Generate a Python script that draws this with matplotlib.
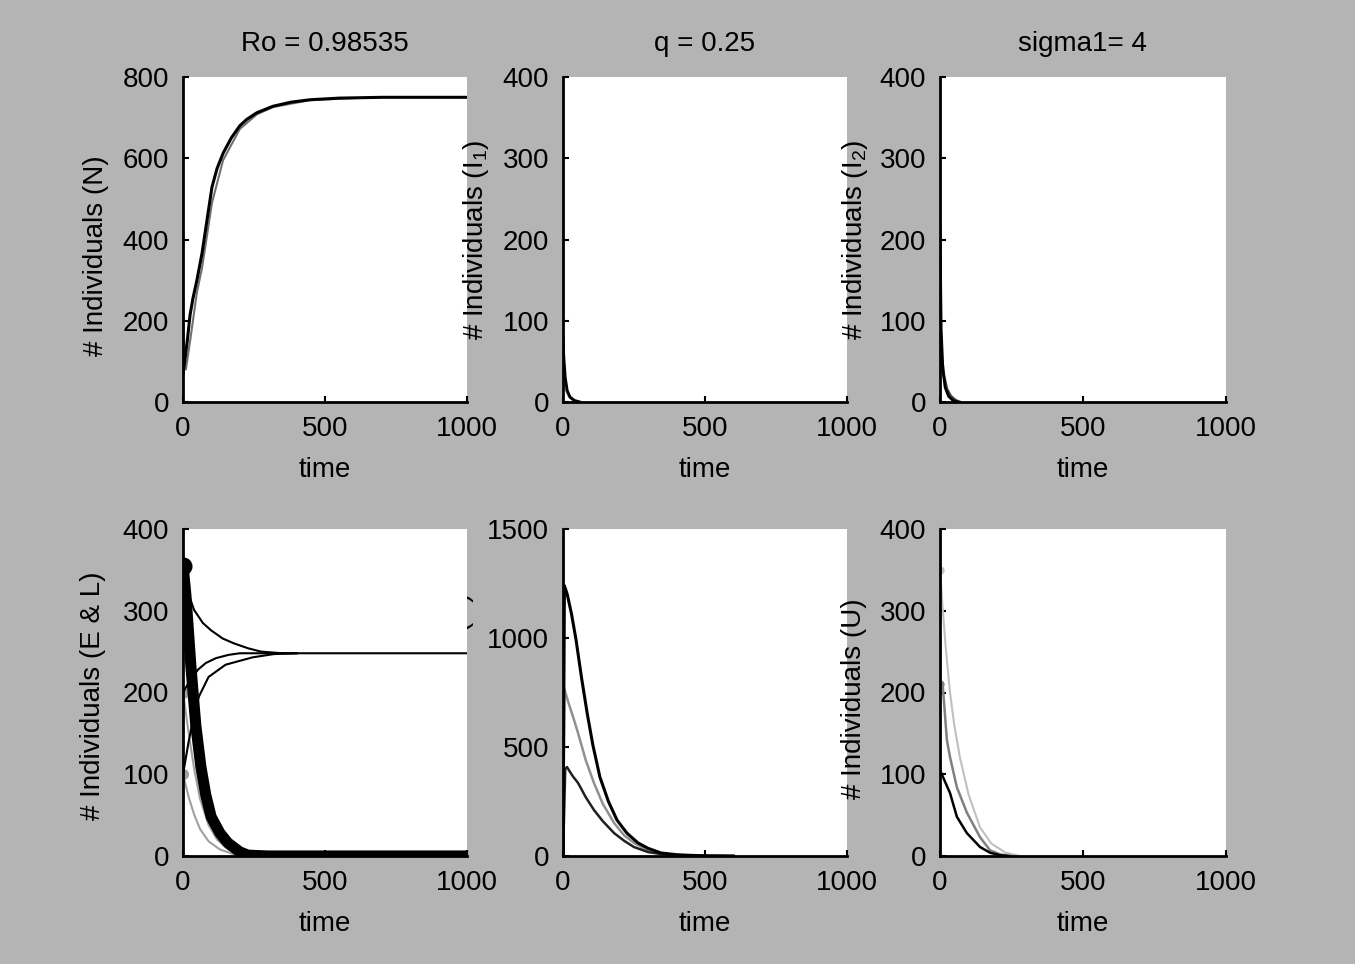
import matplotlib
matplotlib.use("Agg")
import matplotlib.pyplot as plt

plt.rcParams['font.family'] = ['Liberation Sans', 'DejaVu Sans']
plt.rcParams['mathtext.fontset'] = 'custom'
plt.rcParams['mathtext.rm'] = 'Liberation Sans'
plt.rcParams['mathtext.it'] = 'Liberation Sans'

# ---------------- data ----------------
titles = ["Ro = 0.98535", "q = 0.25", "sigma1= 4"]
ylabels = ["# Individuals (N)", r"# Individuals (I$_\mathrm{1}$)", r"# Individuals (I$_\mathrm{2}$)",
           "# Individuals (E & L)", "# Individuals (C)", "# Individuals (U)"]
xlabel = "time"
xticks = [0, 500, 1000]

# Panel 1: total population N
n_a_t = [0, 5, 15, 25, 35, 49, 67, 85, 102, 120, 141, 170, 200, 225, 260, 317, 380, 447, 550, 700, 1000]
n_a_v = [70, 95, 150, 215, 255, 300, 366, 450, 529, 575, 612, 650, 680, 696, 712, 728, 738, 744, 748, 750, 750]
n_b_t = [0, 4, 10, 25, 49, 67, 102, 141, 200, 260, 317, 447, 600]
n_b_v = [245, 110, 80, 150, 270, 330, 490, 595, 672, 708, 726, 743, 748]

# Panel 2: I1
i1_a_t = [0, 3, 8, 15, 25, 40, 60]
i1_a_v = [80, 55, 30, 14, 6, 2, 0]
i1_b_t = [0, 5, 12, 22, 35, 55]
i1_b_v = [40, 25, 13, 6, 2, 0]

# Panel 3: I2
i2_a_t = [0, 4, 10, 18, 30, 45, 63]
i2_a_v = [220, 90, 40, 18, 7, 2, 0]
i2_b_t = [0, 6, 14, 24, 38, 55, 70]
i2_b_v = [90, 55, 32, 16, 7, 2, 0]

# Panel 4: E & L
el_thick_t = [0, 10, 28, 45, 63, 80, 99, 130, 158, 200, 229, 300, 1000]
el_thick_v = [355, 320, 231, 160, 109, 75, 48, 28, 16, 5, 1, 0, 0]
el_grey_t = [0, 20, 40, 60, 90, 120, 160, 200, 250]
el_grey_v = [350, 260, 170, 110, 60, 32, 14, 5, 0]
l_top_t = [0, 15, 39, 70, 99, 140, 180, 230, 275, 350, 1000]
l_top_v = [355, 325, 301, 285, 276, 266, 260, 254, 250, 248, 248]
l_mid_t = [0, 20, 53, 80, 116, 160, 200, 300, 400]
l_mid_v = [200, 212, 228, 236, 242, 246, 248, 248, 248]
l_low_t = [0, 20, 40, 56, 90, 150, 245, 320, 400]
l_low_v = [100, 140, 175, 195, 219, 234, 243, 247, 248]
e_200_t = [0, 20, 40, 60, 90, 120, 160, 200]
e_200_v = [200, 150, 105, 70, 38, 20, 8, 2]
e_100_t = [0, 20, 40, 60, 90, 130, 180]
e_100_v = [100, 72, 50, 33, 18, 8, 2]

# Panel 5: C
c_a_t = [0, 5, 15, 30, 46, 65, 85, 105, 130, 160, 190, 225, 264, 300, 345, 400, 450, 500, 600]
c_a_v = [0, 1240, 1200, 1110, 991, 820, 656, 510, 362, 250, 165, 105, 60, 35, 14, 6, 3, 1, 0]
c_b_t = [0, 5, 20, 35, 53, 80, 109, 140, 180, 215, 250, 300, 350, 400]
c_b_v = [0, 765, 700, 640, 564, 440, 335, 240, 151, 95, 60, 25, 10, 3]
c_c_t = [0, 8, 14, 25, 35, 53, 80, 109, 140, 180, 215, 250, 300, 350, 400, 450, 600]
c_c_v = [0, 400, 408, 385, 365, 335, 270, 211, 160, 105, 70, 41, 18, 8, 3, 1, 0]

# Panel 6: U
u_a_t = [0, 10, 20, 35, 50, 70, 100, 140, 180, 230, 280]
u_a_v = [350, 300, 255, 200, 160, 120, 75, 35, 15, 4, 0]
u_b_t = [0, 10, 24, 35, 59, 94, 140, 175, 210, 250]
u_b_v = [210, 207, 142, 121, 84, 53, 23, 7, 2, 0]
u_c_t = [0, 35, 59, 94, 140, 175, 210, 240]
u_c_v = [105, 77, 48, 28, 11, 4, 1, 0]

ylims = [800, 400, 400, 400, 1500, 400]
yticks = [[0, 200, 400, 600, 800], [0, 100, 200, 300, 400], [0, 100, 200, 300, 400],
          [0, 100, 200, 300, 400], [0, 500, 1000, 1500], [0, 100, 200, 300, 400]]

# ---------------- figure ----------------
W, H = 1355, 964
fig = plt.figure(figsize=(W / 100, H / 100), dpi=100)
BG = '#b4b4b4'
fig.patch.set_facecolor(BG)

def rect(x0, x1, ytop, ybot):
    return [x0 / W, 1 - ybot / H, (x1 - x0) / W, (ybot - ytop) / H]

boxes = [rect(183, 467, 77, 402), rect(563, 847, 77, 402), rect(940, 1226, 77, 402),
         rect(183, 467, 529, 856), rect(563, 847, 529, 856), rect(940, 1226, 529, 856)]
label_x = [-0.262, -0.255, -0.246, -0.27, -0.313, -0.255]
label_y = [0.45, 0.5, 0.5, 0.49, 0.5, 0.48]
zorders = [1, 2, 3, 3, 1, 3]

FS = 20
axes = [fig.add_axes(b) for b in boxes]
for i, ax in enumerate(axes):
    ax.set_zorder(zorders[i])
    ax.set_facecolor('white')
    ax.set_xlim(0, 1000)
    ax.set_ylim(0, ylims[i])
    ax.set_xticks(xticks)
    ax.set_yticks(yticks[i])
    for s in ['top', 'right']:
        ax.spines[s].set_visible(False)
    for s in ['left', 'bottom']:
        ax.spines[s].set_linewidth(2)
        ax.spines[s].set_color('black')
    ax.tick_params(direction='in', length=4, width=1.5, labelsize=FS, pad=10, colors='black')
    ax.set_xlabel(xlabel, fontsize=FS, labelpad=11)
    ax.set_ylabel(ylabels[i], fontsize=FS)
    ax.yaxis.set_label_coords(label_x[i], label_y[i])
    if i < 3:
        ax.set_title(titles[i], fontsize=FS, pad=19)

ax1, ax2, ax3, ax4, ax5, ax6 = axes

ax1.plot(n_b_t, n_b_v, color='#707070', lw=1.5)
ax1.plot(n_a_t, n_a_v, color='black', lw=2.2)

ax2.plot(i1_b_t, i1_b_v, color='#808080', lw=1.5)
ax2.plot(i1_a_t, i1_a_v, color='black', lw=2)

ax3.plot(i2_b_t, i2_b_v, color='#404040', lw=2)
ax3.plot(i2_a_t, i2_a_v, color='black', lw=2)

ax4.plot(e_200_t, e_200_v, color='#a0a0a0', lw=1.5, marker='o', markevery=[0], ms=7)
ax4.plot(e_100_t, e_100_v, color='#a0a0a0', lw=1.5, marker='o', markevery=[0], ms=7)
ax4.plot(el_grey_t, el_grey_v, color='#b8b8b8', lw=5)
ax4.plot(l_top_t, l_top_v, color='black', lw=1.5)
ax4.plot(l_mid_t, l_mid_v, color='black', lw=1.5)
ax4.plot(l_low_t, l_low_v, color='black', lw=1.5)
ax4.plot(el_thick_t, el_thick_v, color='black', lw=8, marker='o', markevery=[0], ms=12)

ax5.plot(c_b_t, c_b_v, color='#909090', lw=1.8)
ax5.plot(c_c_t, c_c_v, color='#202020', lw=1.8)
ax5.plot(c_a_t, c_a_v, color='black', lw=2.2)

ax6.plot(u_a_t, u_a_v, color='#c0c0c0', lw=1.5, marker='o', markevery=[0], ms=5)
ax6.plot(u_b_t, u_b_v, color='#808080', lw=1.8, marker='o', markevery=[0], ms=5)
ax6.plot(u_c_t, u_c_v, color='black', lw=1.8)

fig.savefig('out.png', dpi=100, facecolor=BG)
